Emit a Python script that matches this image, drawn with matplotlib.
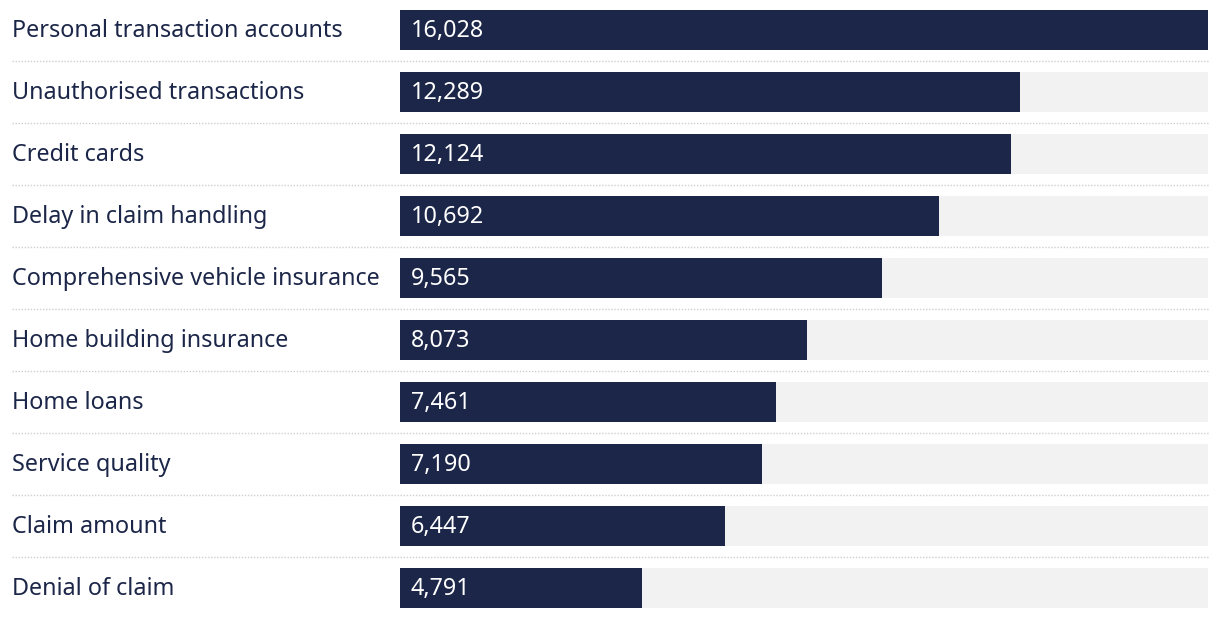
import numpy as np
import matplotlib
matplotlib.use('Agg')
import matplotlib.pyplot as plt
import matplotlib.transforms as mtransforms

categories = ['Personal transaction accounts', 'Unauthorised transactions', 'Credit cards',
              'Delay in claim handling', 'Comprehensive vehicle insurance', 'Home building insurance',
              'Home loans', 'Service quality', 'Claim amount', 'Denial of claim']
values = [16028, 12289, 12124, 10692, 9565, 8073, 7461, 7190, 6447, 4791]

navy = '#1b2648'
track = '#f2f2f2'

plt.rcParams['font.family'] = ['Noto Sans', 'DejaVu Sans']

W, H = 1220, 618
fig = plt.figure(figsize=(W / 100, H / 100), dpi=100, facecolor='white')

# bars live from x=400px to x=1208px
ax = fig.add_axes([400 / W, 0, 808 / W, 1])
n = len(categories)
y = np.arange(n)
vmax = max(values)

ax.barh(y, [vmax] * n, height=40 / 62, color=track, left=0)
ax.barh(y, values, height=40 / 62, color=navy)

ax.set_xlim(0, vmax)
ax.set_ylim((H - 30) / 62, -30 / 62)
ax.axis('off')

trans = mtransforms.blended_transform_factory(fig.transFigure, ax.transData)
for i, (cat, v) in enumerate(zip(categories, values)):
    ax.text(12 / W, i + 0.02, cat, transform=trans, ha='left', va='center',
            fontsize=16.8, color=navy)
    ax.text(411 / W, i + 0.02, f'{v:,}', transform=trans, ha='left', va='center',
            fontsize=16.8, color='white')

# dotted separators between rows
for i in range(n - 1):
    ax.plot([12 / W, 1208 / W], [i + 0.5, i + 0.5], transform=trans, clip_on=False,
            color='#cfcfcf', linewidth=1.0, linestyle=(0, (1, 1.2)))

fig.savefig('out.png', dpi=100, facecolor='white')
